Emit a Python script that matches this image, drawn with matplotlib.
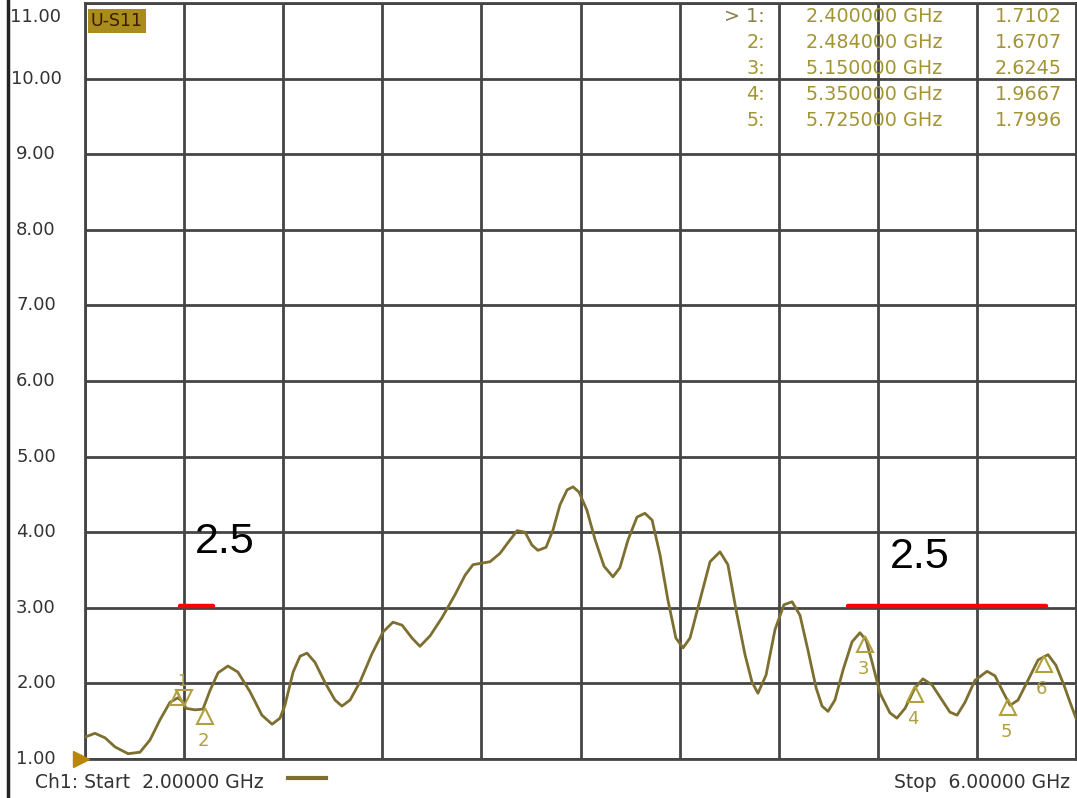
import numpy as np
import matplotlib
matplotlib.use("Agg")
import matplotlib.pyplot as plt
from matplotlib.transforms import offset_copy, blended_transform_factory

# trace: frequency (GHz) and VSWR
freq = [2.000, 2.040, 2.081, 2.121, 2.174, 2.222, 2.262, 2.303, 2.343, 2.375,
        2.396, 2.408, 2.444, 2.476, 2.505, 2.537, 2.577, 2.617, 2.666, 2.714,
        2.755, 2.787, 2.807, 2.840, 2.868, 2.896, 2.928, 2.969, 3.009, 3.037,
        3.070, 3.110, 3.158, 3.203, 3.243, 3.280, 3.320, 3.352, 3.393, 3.441,
        3.493, 3.534, 3.566, 3.635, 3.675, 3.716, 3.744, 3.776, 3.804, 3.828,
        3.861, 3.889, 3.917, 3.946, 3.970, 3.994, 4.026, 4.059, 4.095, 4.131,
        4.159, 4.192, 4.228, 4.260, 4.289, 4.321, 4.353, 4.385, 4.414, 4.442,
        4.482, 4.523, 4.563, 4.595, 4.628, 4.664, 4.692, 4.716, 4.749, 4.785,
        4.821, 4.854, 4.886, 4.918, 4.951, 4.975, 4.999, 5.027, 5.060, 5.096,
        5.128, 5.153, 5.177, 5.209, 5.249, 5.277, 5.310, 5.350, 5.382, 5.419,
        5.459, 5.491, 5.520, 5.552, 5.592, 5.641, 5.673, 5.705, 5.734, 5.766,
        5.806, 5.847, 5.887, 5.919, 5.951, 5.976, 6.000]
vswr = [1.29, 1.34, 1.28, 1.16, 1.07, 1.09, 1.25, 1.52, 1.75, 1.81,
        1.75, 1.67, 1.65, 1.66, 1.91, 2.14, 2.23, 2.15, 1.89, 1.58,
        1.46, 1.54, 1.71, 2.15, 2.36, 2.40, 2.28, 2.01, 1.78, 1.70,
        1.78, 2.02, 2.39, 2.68, 2.81, 2.77, 2.60, 2.49, 2.63, 2.87,
        3.17, 3.43, 3.57, 3.61, 3.72, 3.90, 4.02, 4.00, 3.83, 3.76,
        3.80, 4.03, 4.36, 4.56, 4.60, 4.53, 4.29, 3.90, 3.55, 3.41,
        3.53, 3.90, 4.20, 4.25, 4.16, 3.70, 3.10, 2.60, 2.47, 2.60,
        3.10, 3.61, 3.74, 3.57, 2.97, 2.38, 2.02, 1.87, 2.11, 2.71,
        3.04, 3.08, 2.90, 2.44, 1.94, 1.70, 1.63, 1.78, 2.18, 2.55,
        2.67, 2.57, 2.28, 1.87, 1.61, 1.54, 1.67, 1.94, 2.06, 1.98,
        1.78, 1.62, 1.58, 1.75, 2.04, 2.16, 2.10, 1.89, 1.71, 1.78,
        2.04, 2.31, 2.38, 2.24, 1.98, 1.75, 1.54]

# markers
mk_num = ["1", "2", "3", "4", "5", "6"]
mk_f = [2.400, 2.484, 5.150, 5.350, 5.725, 5.870]
mk_v = [1.7102, 1.6707, 2.6245, 1.9667, 1.7996, 2.36]
tbl_freq = ["2.400000 GHz", "2.484000 GHz", "5.150000 GHz", "5.350000 GHz", "5.725000 GHz"]
tbl_val = ["1.7102", "1.6707", "2.6245", "1.9667", "1.7996"]

# red limit lines and their labels
lim_v = 3.03
lim_spans = [(2.385, 2.515), (5.08, 5.88)]
lim_labels = [(2.565, 3.87), (5.37, 3.67)]

yticks = np.arange(1, 12)
xticks = 2 + 0.4 * np.arange(11)

W, H = 1077, 798
fig = plt.figure(figsize=(W / 100, H / 100), dpi=100)
fig.patch.set_facecolor("white")
ax = fig.add_axes([85 / W, (H - 759) / H, (1076 - 85) / W, (759 - 3) / H])

grid_c = "#454545"
ax.set_xlim(2, 6)
ax.set_ylim(1, 11)
ax.set_xticks(xticks)
ax.set_yticks(yticks)
ax.grid(True, color=grid_c, lw=2)
ax.tick_params(length=0, labelbottom=False, labelleft=False)
for s in ax.spines.values():
    s.set_color(grid_c)
    s.set_linewidth(2)

trace_c = "#7d6f30"
ax.plot(freq, vswr, color=trace_c, lw=2.0, zorder=3)

# y labels, centred left of the grid
tr = blended_transform_factory(fig.transFigure, ax.transData)
for v in yticks:
    yy = v if v < 11 else 10.82
    ax.text(36 / W, yy, "%.2f" % v, transform=tr, ha="center", va="center",
            fontsize=13, color="#333333", family="DejaVu Sans")

# markers
mc = "#b0a040"
down = offset_copy(ax.transData, fig=fig, x=0, y=7, units="dots")
up = offset_copy(ax.transData, fig=fig, x=0, y=-8, units="dots")
for i, (n, f, v) in enumerate(zip(mk_num, mk_f, mk_v)):
    if i == 0:
        ax.plot(f, v, marker="v", ms=11, mfc="none", mec=mc, mew=1.5,
                transform=down, zorder=4)
        ax.plot(f - 0.03, v, marker="^", ms=10, mfc="none", mec=mc, mew=1.5,
                transform=down, zorder=4)
        ax.annotate(n, (f, v), xytext=(-2, 24), textcoords="offset pixels",
                    ha="center", va="center", fontsize=11, color=mc)
    else:
        ax.plot(f, v, marker="^", ms=11, mfc="none", mec=mc, mew=1.5,
                transform=up, zorder=4)
        ax.annotate(n, (f, v), xytext=(-2, -33), textcoords="offset pixels",
                    ha="center", va="center", fontsize=13, color=mc)

# reference arrow at the left edge
ax.plot(2, 1, marker=">", ms=11, color="#b8860b", clip_on=False,
        transform=offset_copy(ax.transData, fig=fig, x=-4, y=0, units="dots"),
        zorder=5)

# red limit lines
for (a, b) in lim_spans:
    ax.plot([a, b], [lim_v, lim_v], color="#ff0000", lw=3.2,
            solid_capstyle="round", zorder=5)
for (f, v) in lim_labels:
    ax.text(f, v, "2.5", ha="center", va="center", fontsize=31,
            color="black", family="Liberation Sans", zorder=6)

# trace label box
fig.text(91 / W, 1 - 21 / H, "U-S11", ha="left", va="center", fontsize=12.5,
         color="#3a1a00", family="DejaVu Sans",
         bbox=dict(boxstyle="square,pad=0.15", fc="#a88c1c", ec="none"))

# marker table
tc = "#a39434"
for i in range(5):
    y = 1 - (17 + 25.8 * i) / H
    lab = ("> " if i == 0 else "") + "%d:" % (i + 1)
    fig.text(765 / W, y, lab, ha="right", va="center", fontsize=13.8,
             color="#8a8050" if i == 0 else tc, family="DejaVu Sans")
    fig.text(806 / W, y, tbl_freq[i], ha="left", va="center", fontsize=13.8,
             color=tc, family="DejaVu Sans")
    fig.text(1062 / W, y, tbl_val[i], ha="right", va="center", fontsize=13.8,
             color=tc, family="DejaVu Sans")

# footer
fig.text(35 / W, 1 - 782 / H, "Ch1: Start  2.00000 GHz", ha="left",
         va="center", fontsize=13.5, color="#333333", family="DejaVu Sans")
fig.add_artist(plt.Line2D([288 / W, 326 / W], [1 - 778 / H, 1 - 778 / H],
                          color=trace_c, lw=3))
fig.text(1070 / W, 1 - 782 / H, "Stop  6.00000 GHz", ha="right",
         va="center", fontsize=13.5, color="#333333", family="DejaVu Sans")

# left window border
fig.add_artist(plt.Line2D([8 / W, 8 / W], [0, 1], color="#222222", lw=2.5))

fig.savefig("out.png", dpi=100)
